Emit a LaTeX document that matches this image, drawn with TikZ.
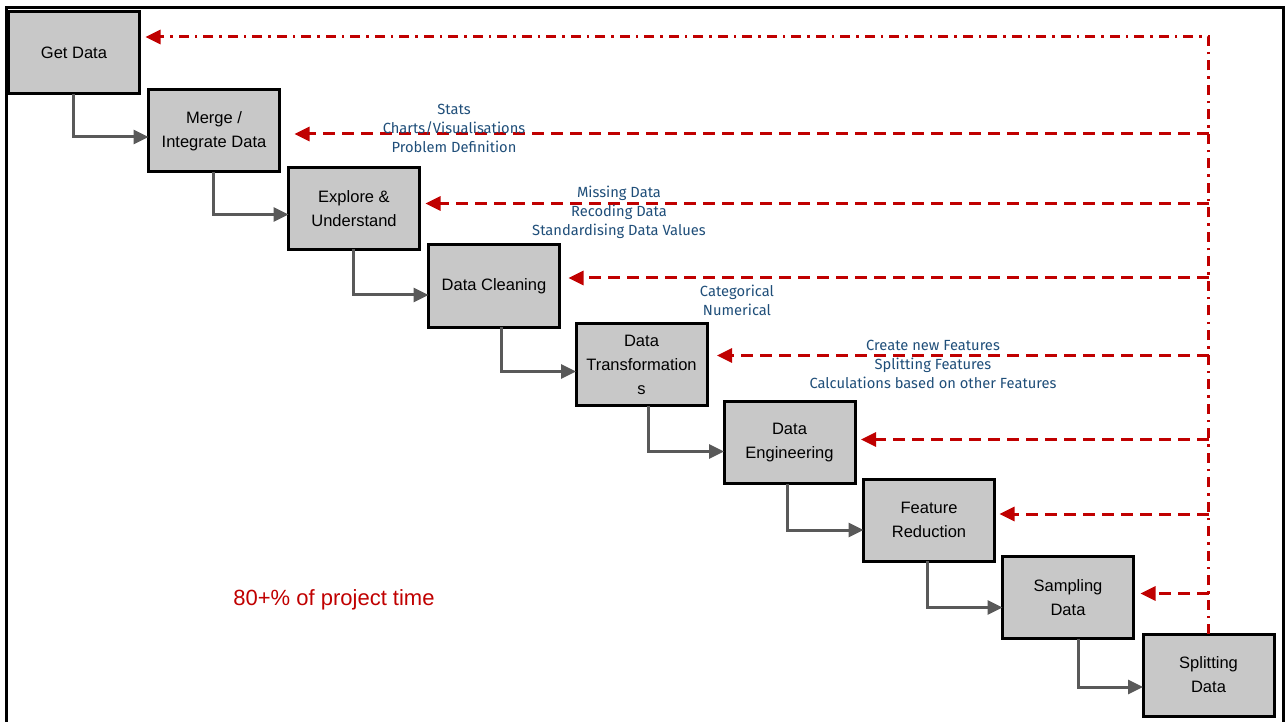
\documentclass[tikz,border=0pt]{standalone}
\usepackage{fontspec}
\setmainfont{Liberation Sans}
\newfontfamily\notefont{Fira Sans}
\usetikzlibrary{arrows.meta,positioning}
\definecolor{boxgray}{RGB}{200,200,200}
\definecolor{flowgray}{RGB}{89,89,89}
\definecolor{backred}{RGB}{192,0,0}
\definecolor{noteblue}{RGB}{31,78,121}
\tikzset{x=1pt, y=-1pt, % one unit is one pixel of the page, y runs down
>={Triangle[length=15pt,width=14pt]}, % filled arrow heads
stage/.style={draw, line width=3pt, fill=boxgray, minimum width=131pt, minimum height=82pt, inner sep=0pt, outer sep=0pt, align=center, font=\fontsize{16.5}{24}\selectfont}, % the process boxes
flow/.style={->, draw=flowgray, line width=3pt}, % grey arrows from step to step
loopback/.style={->, draw=backred, line width=3pt, dash pattern=on 12pt off 7pt}, % red dashed arrows going back
loopfirst/.style={loopback, dash pattern=on 10pt off 6pt on 2.5pt off 6pt}, % the dash dot one back to the start
note/.style={text=noteblue, align=center, font=\notefont\fontsize{14.7}{19}\selectfont}, % blue notes on the arrows
}

\begin{document}
\begin{tikzpicture}
\useasboundingbox (0,0) rectangle (1286,722);
\draw[line width=3pt] (6,760) -- (6,8) -- (1283,8) -- (1283,760);

\node[stage] (0) at (74,53) {Get Data};
\node[stage] (1) at (214,131) {Merge /\\Integrate Data};
\node[stage] (2) at (354,208.5) {Explore \&\\Understand};
\node[stage] (3) at (494,286) {Data Cleaning};
\node[stage] (4) at (641.5,364.5) {Data\\Transformation\\s};
\node[stage] (5) at (789.5,442.5) {Data\\Engineering};
\node[stage] (6) at (929,520) {Feature\\Reduction};
\node[stage] (7) at (1068,597.5) {Sampling\\Data};
\node[stage] (8) at (1208.5,675) {Splitting\\Data};

\draw[flow] ([xshift=-1pt]0.south) |- ([yshift=-6pt]1.west);
\draw[flow] ([xshift=-1pt]1.south) |- ([yshift=-6pt]2.west);
\draw[flow] ([xshift=-1pt]2.south) |- ([yshift=-9pt]3.west);
\draw[flow] ([xshift=7pt]3.south) |- ([yshift=-7pt]4.west);
\draw[flow] ([xshift=7pt]4.south) |- ([yshift=-9pt]5.west);
\draw[flow] ([xshift=-2pt]5.south) |- ([yshift=-10pt]6.west);
\draw[flow] ([xshift=-2pt]6.south) |- ([yshift=-10pt]7.west);
\draw[flow] ([xshift=10pt]7.south) |- ([yshift=-12pt]8.west);

\draw[loopfirst] (8.north) |- ([xshift=6pt,yshift=16pt]0.east);
\draw[loopback] ([yshift=-3pt]1.east -| 8.north) -- ([xshift=15pt,yshift=-3pt]1.east);
\draw[loopback] ([yshift=5pt]2.east -| 8.north) -- ([xshift=6pt,yshift=5pt]2.east);
\draw[loopback] ([yshift=8pt]3.east -| 8.north) -- ([xshift=9pt,yshift=8pt]3.east);
\draw[loopback] ([yshift=9pt]4.east -| 8.north) -- ([xshift=10pt,yshift=9pt]4.east);
\draw[loopback] ([yshift=3pt]5.east -| 8.north) -- ([xshift=6pt,yshift=3pt]5.east);
\draw[loopback] ([yshift=6pt]6.east -| 8.north) -- ([xshift=5pt,yshift=6pt]6.east);
\draw[loopback] ([yshift=4pt]7.east -| 8.north) -- ([xshift=7pt,yshift=4pt]7.east);

\node[note] (explore) at (454,128) {Stats\\Charts/Visualisations\\Problem Definition};
\node[note] (clean) at (619,212) {Missing Data\\Recoding Data\\Standardising Data Values};
\node[note] (transform) at (737,300.5) {Categorical\\Numerical};
\node[note] (engineer) at (933,364) {Create new Features\\Splitting Features\\Calculations based on other Features};

\node[text=backred, font=\fontsize{22}{26}\selectfont] (time) at (334,600) {80+\% of project time};
\end{tikzpicture}
\end{document}
